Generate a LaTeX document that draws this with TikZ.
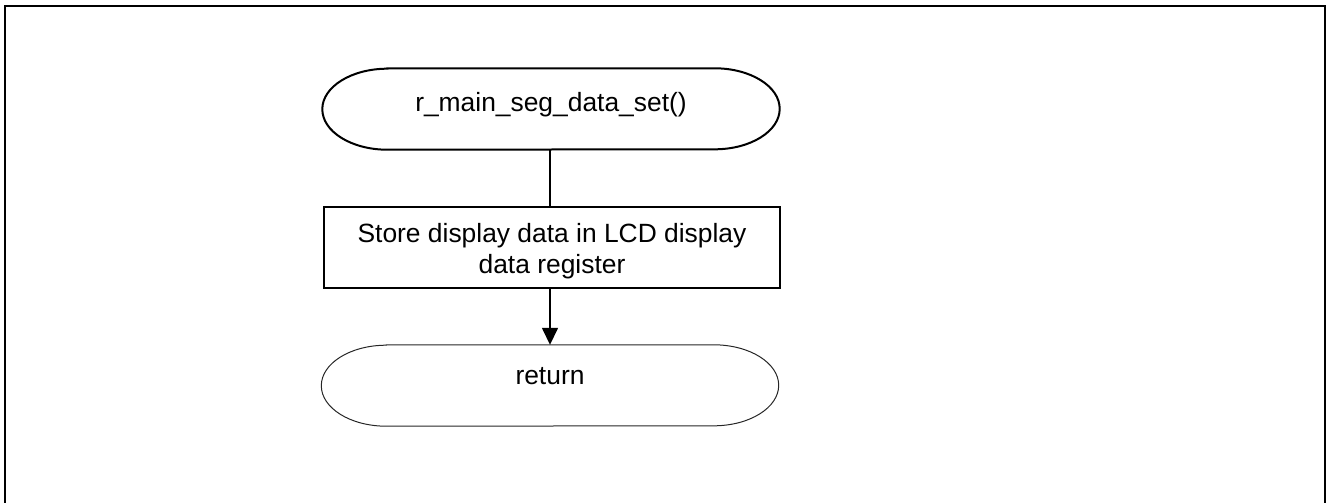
\documentclass[tikz,border=0pt]{standalone}
\usepackage{fontspec}
\setmainfont{Liberation Sans}
\usetikzlibrary{arrows.meta}
\begin{document}
\begin{tikzpicture}[x=1pt,y=-1pt,
  every node/.style={font=\fontsize{26.4}{30.8}\selectfont},
  termnode/.style={minimum width=457pt,minimum height=81pt,inner sep=0pt},
  procbox/.style={draw,line width=2pt,minimum width=456pt,minimum height=81pt,inner sep=0pt},
  conn/.style={line width=1.5pt},
  frame/.style={line width=2.5pt}]
\useasboundingbox (0,0) rectangle (1328,503);
\draw[frame] (5,520) -- (5,6) -- (1325,6) -- (1325,520);
% start terminator
\node[termnode,text height=18pt,text depth=14pt] (start) at (551,109) {r\_main\_seg\_data\_set()};
\draw[line width=2pt] ([xshift=65pt]start.north west) -- ([xshift=-65pt]start.north east)
  arc[start angle=90,end angle=-90,x radius=65pt,y radius=40.5pt]
  -- ([xshift=65pt]start.south west)
  arc[start angle=270,end angle=90,x radius=65pt,y radius=40.5pt] -- cycle;
% process box
\node[procbox] (store) at (552,247.5) {\raisebox{-4.5pt}[\height][\depth]{\begin{tabular}{@{}c@{}}Store display data in LCD display\\data register\end{tabular}}};
% return terminator
\node[termnode,text height=14.5pt,text depth=17.5pt] (ret) at (550,385.5) {return};
\draw[line width=1pt,black!85] ([xshift=65pt]ret.north west) -- ([xshift=-65pt]ret.north east)
  arc[start angle=90,end angle=-90,x radius=65pt,y radius=40.5pt]
  -- ([xshift=65pt]ret.south west)
  arc[start angle=270,end angle=90,x radius=65pt,y radius=40.5pt] -- cycle;
% connectors
\draw[conn] (start.south -| 550,0) -- (store.north -| 550,0);
\draw[conn,-{Triangle[length=17pt,width=16pt]}] (store.south -| 550,0) -- (ret.north -| 550,0);
\end{tikzpicture}
\end{document}
